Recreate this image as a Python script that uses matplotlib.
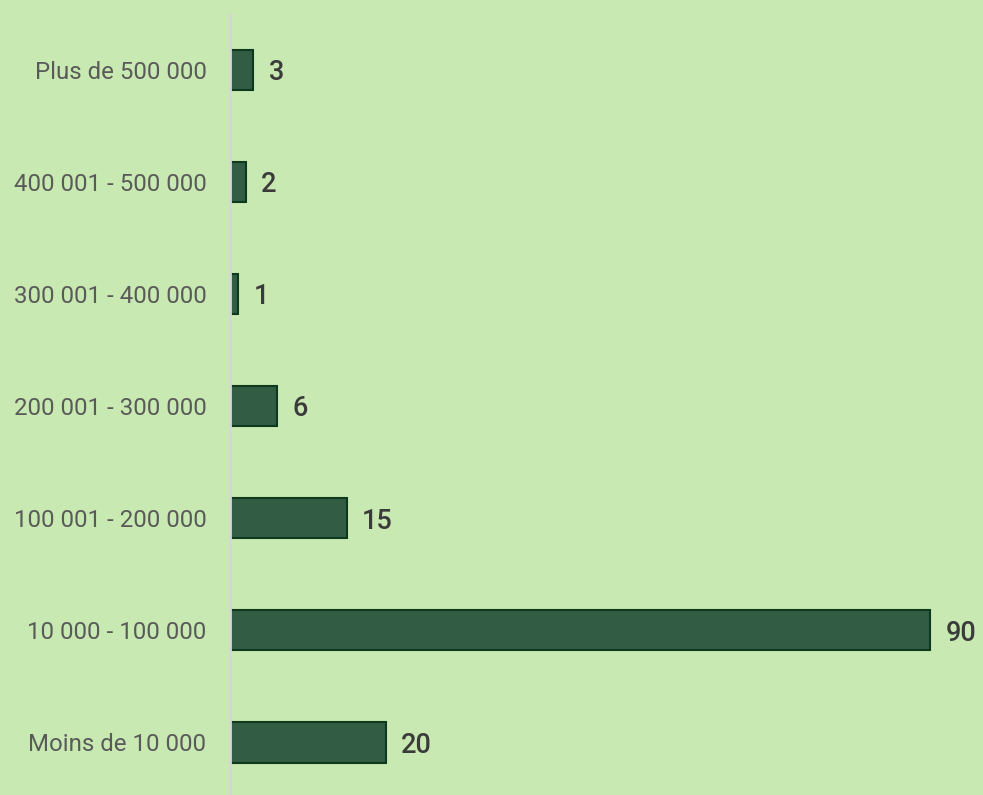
import matplotlib.pyplot as plt

categories = ["Moins de 10 000", "10 000 - 100 000", "100 001 - 200 000",
              "200 001 - 300 000", "300 001 - 400 000", "400 001 - 500 000",
              "Plus de 500 000"]
counts = [20, 90, 15, 6, 1, 2, 3]

bg = "#c8e9b1"
bar_color = "#335c44"
edge_color = "#0c3a1c"

plt.rcParams["font.family"] = ["Roboto", "DejaVu Sans"]

fig = plt.figure(figsize=(9.83, 7.95), dpi=100, facecolor=bg)
ax = fig.add_axes([230 / 983, 0, 753 / 983, 781 / 795], facecolor=bg)

pos = list(range(len(categories)))
ax.barh(pos, counts, height=0.36, color=bar_color, edgecolor=edge_color, linewidth=1.5)

# value labels just right of each bar
for y, v in zip(pos, counts):
    ax.text(v + 2.0, y - 0.025, str(v), va="center", ha="left", fontsize=19.5,
            color="#3b3b3b", fontweight="medium")

ax.set_xlim(0, 96.8)
ax.set_ylim(-0.47, 6.5)
ax.set_yticks(pos)
ax.set_yticklabels(categories, fontsize=17.3, color="#5a5a5a")
ax.tick_params(axis="y", length=0, pad=17)
ax.set_xticks([])

for side in ["top", "right", "bottom"]:
    ax.spines[side].set_visible(False)
ax.spines["left"].set_color("#d6d6d6")
ax.spines["left"].set_linewidth(2)

fig.savefig("out.png", dpi=100, facecolor=bg)
